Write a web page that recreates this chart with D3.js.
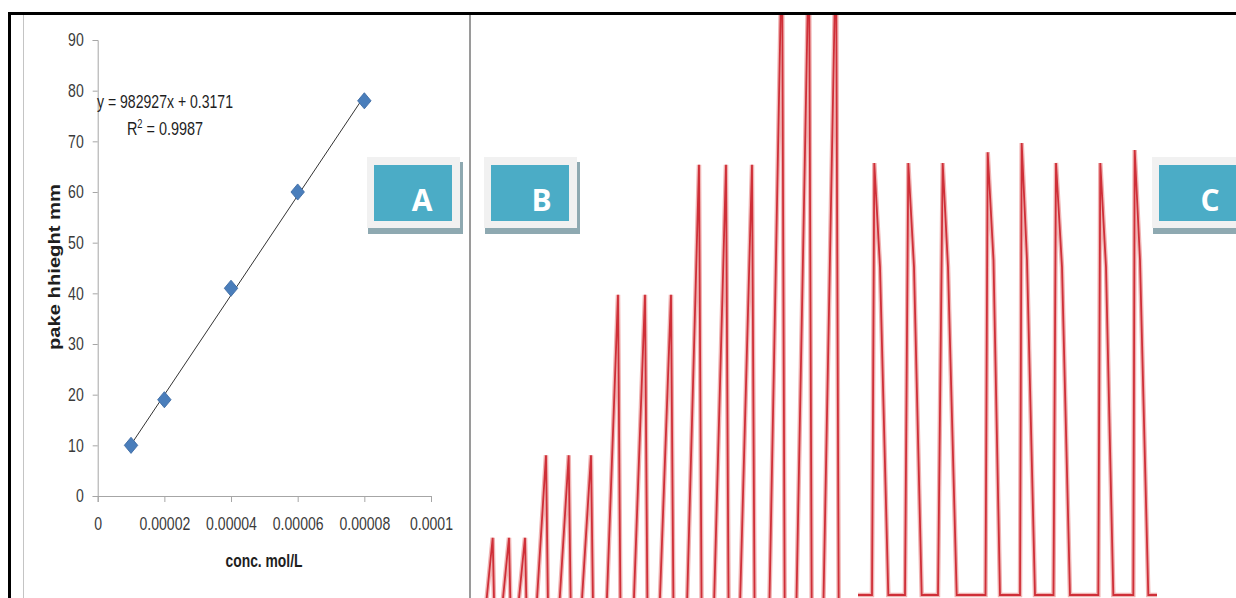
<!DOCTYPE html>
<html>
<head>
<meta charset="utf-8">
<script src="https://cdn.jsdelivr.net/npm/d3@7"></script>
<style>
  body { margin: 0; background: #fff; }
  svg { display: block; }
</style>
</head>
<body>
<script>
'use strict';

// panel A: calibration data
var concentrations = [0.00001, 0.00002, 0.00004, 0.00006, 0.00008];
var peakHeights = [10, 19, 41, 60, 78];
var xTicks = [0, 0.00002, 0.00004, 0.00006, 0.00008, 0.0001];
var xTickLabels = ["0", "0.00002", "0.00004", "0.00006", "0.00008", "0.0001"];
var yTicks = [0, 10, 20, 30, 40, 50, 60, 70, 80, 90];
var slope = 982927, intercept = 0.3171;

// panel B: recorder trace (time, signal)
var bTime = [8.7, 22.7, 25.7, 25, 39, 42, 41, 55, 58,
             62, 76, 79, 84.7, 98.7, 101.7, 107, 121, 124,
             134, 148, 151, 161, 175, 178, 187, 201, 204,
             215, 229, 232, 242, 256, 259, 268, 282, 285,
             298, 312, 315, 325, 339, 342, 352, 366, 369];
var bSignal = [0, 21.4, 0, 0, 21.4, 0, 0, 21.4, 0,
               0, 33.9, 0, 0, 33.9, 0, 0, 33.9, 0,
               0, 58.2, 0, 0, 58.2, 0, 0, 58.2, 0,
               0, 77.9, 0, 0, 77.9, 0, 0, 77.9, 0,
               0, 112, 0, 0, 112, 0, 0, 112, 0];

// panel C: recorder trace (time, signal)
var cTime = [8, 22, 24.3, 30, 38.3, 55, 58.3, 64, 71.7, 88, 92.7, 98, 106.7,
             135.5, 137.7, 143.5, 150, 170, 171.7, 177, 185, 203.5, 206, 212, 220,
             248.3, 250.3, 256, 263.3, 283.3, 284.7, 290, 298.3, 307];
var cSignal = [0, 0, 100, 75.9, 0, 0, 100, 75.9, 0, 0, 100, 75.9, 0,
               0, 102.5, 77.5, 0, 0, 104.6, 77.5, 0, 0, 100, 75.9, 0,
               0, 100, 75.9, 0, 0, 103, 77.5, 0, 0];

var labels = ["A", "B", "C"];

// constants
var width = 1236, height = 598,
    teal = "#4BACC6",
    red = "#cf2f38",
    sans = "'Liberation Sans', Arial, sans-serif";

// squeeze text horizontally, like a narrow face
function squeeze(sel, k) {
  sel.each(function() {
    var w = this.getComputedTextLength();
    d3.select(this)
      .attr("textLength", w * k)
      .attr("lengthAdjust", "spacingAndGlyphs");
  });
}

var svg = d3.select("body").append("svg")
  .attr("width", width)
  .attr("height", height);

// Frame
// =====
svg.append("rect")
  .attr("x", 23.5).attr("y", 14.5)
  .attr("width", 446).attr("height", 600)
  .attr("fill", "none")
  .attr("stroke", "#c4c4c4");
svg.append("line")
  .attr("x1", 470).attr("x2", 470).attr("y1", 14).attr("y2", height)
  .attr("stroke", "#9a9a9a").attr("stroke-width", 2);
svg.append("line")
  .attr("x1", 8).attr("x2", width).attr("y1", 13.5).attr("y2", 13.5)
  .attr("stroke", "#000").attr("stroke-width", 3);
svg.append("line")
  .attr("x1", 9.5).attr("x2", 9.5).attr("y1", 12).attr("y2", height)
  .attr("stroke", "#000").attr("stroke-width", 3);

// Panel A
// =======
var x = d3.scaleLinear().domain([0, 0.0001]).range([97.7, 431]);
var y = d3.scaleLinear().domain([0, 90]).range([496, 40]);

var xAxis = svg.append("g")
  .attr("transform", "translate(0," + y(0) + ")")
  .call(d3.axisBottom(x).tickValues(xTicks).tickSize(6).tickPadding(15)
    .tickFormat(function(d, i) { return xTickLabels[i]; }));

var yAxis = svg.append("g")
  .attr("transform", "translate(" + x(0) + ",0)")
  .call(d3.axisLeft(y).tickValues(yTicks).tickSize(5).tickPadding(9));

[xAxis, yAxis].forEach(function(g) {
  g.select(".domain").attr("stroke", "#a6a6a6");
  g.selectAll(".tick line").attr("stroke", "#a6a6a6");
  g.selectAll(".tick text")
    .attr("fill", "#3a3a3a")
    .style("font-family", sans)
    .style("font-size", "18.5px")
    .call(squeeze, 0.76);
});

svg.append("text")
  .attr("x", 264).attr("y", 567)
  .attr("text-anchor", "middle")
  .attr("textLength", 77)
  .attr("lengthAdjust", "spacingAndGlyphs")
  .style("font-family", sans)
  .style("font-weight", "bold")
  .style("font-size", "18.5px")
  .attr("fill", "#1e1e1e")
  .text("conc. mol/L");

svg.append("text")
  .attr("transform", "translate(60,267) rotate(-90)")
  .attr("text-anchor", "middle")
  .attr("textLength", 166)
  .attr("lengthAdjust", "spacingAndGlyphs")
  .style("font-family", sans)
  .style("font-weight", "bold")
  .style("font-size", "17px")
  .attr("fill", "#1e1e1e")
  .text("pake hhieght mm");

// trendline
var x0 = concentrations[0], x1 = concentrations[concentrations.length - 1];
svg.append("line")
  .attr("x1", x(x0)).attr("y1", y(slope * x0 + intercept))
  .attr("x2", x(x1)).attr("y2", y(slope * x1 + intercept))
  .attr("stroke", "#333").attr("stroke-width", 1);

svg.selectAll("path.pt")
  .data(concentrations)
  .enter().append("path")
  .attr("class", "pt")
  .attr("d", d3.symbol().type(d3.symbolDiamond2).size(115))
  .attr("transform", function(d, i) {
    return "translate(" + x(d) + "," + y(peakHeights[i]) + ") scale(1,1.2)";
  })
  .attr("fill", "#4A7EBB")
  .attr("stroke", "#3c6aa3")
  .attr("stroke-width", 0.8);

var eq = svg.append("g")
  .style("font-family", sans)
  .style("font-size", "18.5px")
  .attr("fill", "#1e1e1e")
  .attr("text-anchor", "middle");
eq.append("text").attr("x", 165).attr("y", 108)
  .attr("textLength", 136)
  .attr("lengthAdjust", "spacingAndGlyphs")
  .text("y = " + slope + "x + " + intercept);
var r2 = eq.append("text").attr("x", 165).attr("y", 135)
  .attr("transform", "translate(165,0) scale(0.78,1) translate(-165,0)");
r2.append("tspan").text("R");
r2.append("tspan").attr("dy", -7).style("font-size", "12px").text("2");
r2.append("tspan").attr("dy", 7).text(" = 0.9987");

// Peaks B and C
// =============
svg.append("clipPath").attr("id", "clip")
  .append("rect").attr("x", 471).attr("y", 15).attr("width", 765).attr("height", 590);

var traces = svg.append("g").attr("clip-path", "url(#clip)");

var xb = d3.scaleLinear().domain([0, 400]).range([470, 870]);
var yb = d3.scaleLinear().domain([0, 100]).range([679, 19]);
var xc = d3.scaleLinear().domain([0, 320]).range([850, 1170]);
var yc = d3.scaleLinear().domain([0, 100]).range([595, 163]);

var lineB = d3.line()
  .x(function(d, i) { return xb(bTime[i]); })
  .y(function(d) { return yb(d); });
var lineC = d3.line()
  .x(function(d, i) { return xc(cTime[i]); })
  .y(function(d) { return yc(d); });

[[bSignal, lineB], [cSignal, lineC]].forEach(function(t) {
  traces.append("path")
    .attr("d", t[1](t[0]))
    .attr("fill", "none")
    .attr("stroke", "#f0b4b4")
    .attr("stroke-width", 4.5)
    .attr("stroke-linejoin", "miter");
  traces.append("path")
    .attr("d", t[1](t[0]))
    .attr("fill", "none")
    .attr("stroke", red)
    .attr("stroke-width", 1.8)
    .attr("stroke-linejoin", "miter");
});

// Label boxes
// ===========
var boxes = [{x: 367, text: labels[0], tx: 422},
             {x: 484, text: labels[1], tx: 541.5},
             {x: 1152, text: labels[2], tx: 1210}];

var box = svg.selectAll("g.box")
  .data(boxes)
  .enter().append("g")
  .attr("class", "box");

box.append("rect")
  .attr("x", function(d) { return d.x + 1; }).attr("y", 162)
  .attr("width", 95).attr("height", 72)
  .attr("fill", "#8EA9B1");
box.append("rect")
  .attr("x", function(d) { return d.x; }).attr("y", 157)
  .attr("width", 93).attr("height", 71)
  .attr("fill", "#F1F1F1");
box.append("rect")
  .attr("x", function(d) { return d.x + 7; }).attr("y", 165)
  .attr("width", 78).attr("height", 56)
  .attr("fill", teal);
box.append("text")
  .attr("x", function(d) { return d.tx; }).attr("y", 211)
  .attr("text-anchor", "middle")
  .style("font-family", "'Open Sans', 'DejaVu Sans', sans-serif")
  .style("font-weight", "bold")
  .style("font-size", "30px")
  .attr("fill", "#fff")
  .text(function(d) { return d.text; });
</script>
</body>
</html>
